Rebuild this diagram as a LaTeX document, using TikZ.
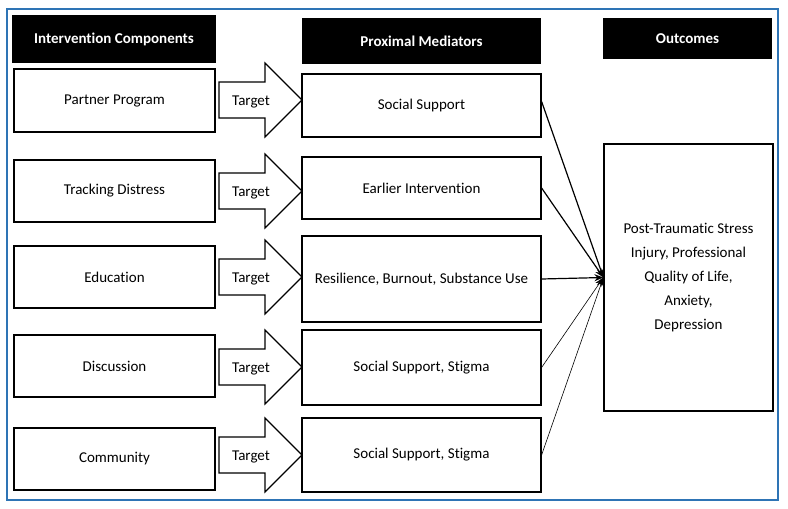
\documentclass[tikz,border=0pt]{standalone}
\usepackage{fontspec}
\setmainfont[Ligatures=NoCommon]{Carlito}
\usetikzlibrary{arrows.meta,calc}
\definecolor{frameblue}{HTML}{2E74B5}
\begin{document}
\begin{tikzpicture}[x=1pt,y=-1pt,
  box/.style={draw, line width=1.2pt, fill=white, inner sep=0pt, align=center,
    font=\fontsize{15}{18}\selectfont},
  header/.style={fill=black, text=white, inner sep=0pt, align=center,
    font=\fontsize{15}{18}\selectfont\bfseries},
  blockarrow/.style={draw, line width=1.2pt, fill=white, line join=miter},
  tlabel/.style={inner sep=0pt, font=\fontsize{15}{18}\selectfont},
  link/.style={line width=1.2pt, -{Stealth[length=9pt,width=7pt]}},
  thinlink/.style={line width=0.6pt, -{Stealth[length=9pt,width=7pt]}}
]
\useasboundingbox (0,0) rectangle (788,509);
\draw[frameblue, line width=1.2pt] (7,9) rectangle (778,500);

% headers
\node[header, minimum width=204pt, minimum height=48pt] (h1) at (114,39) {Intervention Components};
\node[header, minimum width=239pt, minimum height=46pt] (h2) at (421.5,41) {Proximal Mediators};
\node[header, minimum width=169pt, minimum height=41pt] (h3) at (687.5,38.5) {Outcomes};

% intervention components
\node[box, minimum width=201pt, minimum height=63pt] (a1) at (114.5,100.5) {Partner Program};
\node[box, minimum width=201pt, minimum height=62pt] (a2) at (114.5,191) {Tracking Distress};
\node[box, minimum width=201pt, minimum height=62pt] (a3) at (114.5,277) {Education};
\node[box, minimum width=201pt, minimum height=62pt] (a4) at (114.5,366) {Discussion};
\node[box, minimum width=201pt, minimum height=62pt] (a5) at (114.5,459) {Community};

% mediators
\node[box, minimum width=239pt, minimum height=63pt] (m1) at (421.5,105.5) {Social Support};
\node[box, minimum width=239pt, minimum height=62pt] (m2) at (421.5,188) {Earlier Intervention};
\node[box, minimum width=239pt, minimum height=86pt] (m3) at (421.5,279) {Resilience, Burnout, Substance Use};
\node[box, minimum width=239pt, minimum height=75pt] (m4) at (421.5,367.5) {Social Support, Stigma};
\node[box, minimum width=239pt, minimum height=74pt] (m5) at (421.5,455) {Social Support, Stigma};

% outcome
\node[box, minimum width=169pt, minimum height=267pt, font=\fontsize{15}{24}\selectfont] (o) at (688.5,277.5)
  {Post-Traumatic Stress\\Injury, Professional\\Quality of Life,\\Anxiety,\\Depression};

% block arrows
\foreach \t/\n in {100/1,191/2,277/3,367/4,455/5}{
  \draw[blockarrow] (219,\t-18) -- (265,\t-18) -- (265,\t-37) -- (302,\t)
    -- (265,\t+37) -- (265,\t+18) -- (219,\t+18) -- cycle;
  \node[tlabel] (t\n) at (251,\t+1.5) {Target};
}

% connectors
\coordinate (c) at (o.west);
\draw[link] ($(m1.east)+(0,-4)$) -- (c);
\draw[link] (m2.east) -- (c);
\draw[link] (m3.east) -- (c);
\draw[thinlink] (m4.east) -- (c);
\draw[thinlink] (m5.east) -- (c);
\end{tikzpicture}
\end{document}
